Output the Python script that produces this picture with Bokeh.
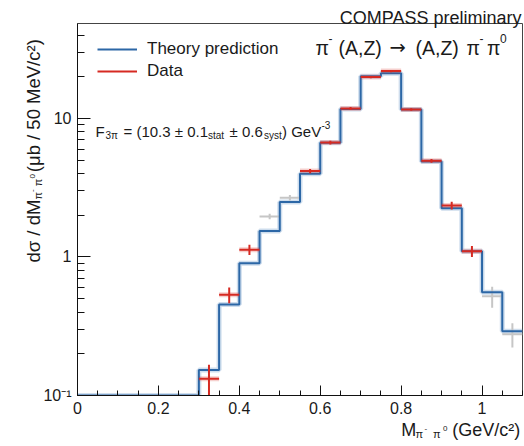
import math
from bokeh.plotting import figure
from bokeh.models import (Legend, LegendItem, FixedTicker, SingleIntervalTicker,
                          CustomJSTickFormatter, Range1d)
from bokeh.core.properties import value
from bokeh.embed import file_html
from bokeh.resources import INLINE

# ---------------- data ----------------
bin_edges = [0.00, 0.05, 0.10, 0.15, 0.20, 0.25, 0.30, 0.35, 0.40, 0.45, 0.50, 0.55,
             0.60, 0.65, 0.70, 0.75, 0.80, 0.85, 0.90, 0.95, 1.00, 1.05, 1.10]
# theory per bin (bins below 0.30 sit on the axis floor)
theory = [0.1, 0.1, 0.1, 0.1, 0.1, 0.1, 0.153, 0.454, 0.90, 1.54, 2.49, 3.99,
          6.67, 11.7, 20.2, 21.2, 11.6, 4.90, 2.25, 1.10, 0.557, 0.291]

data_mass = [0.325, 0.375, 0.425, 0.575, 0.625, 0.675, 0.725, 0.775, 0.825, 0.875, 0.925, 0.975]
data_val = [0.132, 0.533, 1.13, 4.17, 6.70, 11.8, 19.9, 22.0, 11.6, 4.95, 2.35, 1.10]
data_err = [0.035, 0.07, 0.095, 0.15, 0.20, 0.30, 0.40, 0.40, 0.25, 0.15, 0.15, 0.10]

excl_mass = [0.475, 0.525, 1.025, 1.075]
excl_val = [1.96, 2.68, 0.52, 0.277]
excl_err = [0.09, 0.12, 0.09, 0.055]

bin_half_width = 0.025

# ---------------- layout ----------------
FONT = "Liberation Sans"
TXT = "#1a1a1a"
BLUE = "#2c67a6"
RED = "#d62a22"
GREY = "#c6c6c6"

FIG_W, FIG_H = 524, 446
ML, MR, MT, MB = 77, 2, 23, 51
FL = ML              # canvas x of frame left
FBOT = FIG_H - MB    # canvas y of frame bottom
X0, X1 = 0.0, 1.1
Y0, Y1 = 0.1, 48.5

p = figure(width=FIG_W, height=FIG_H, x_range=Range1d(X0, X1), y_range=Range1d(Y0, Y1),
           y_axis_type="log", output_backend="svg", toolbar_location=None,
           min_border_left=ML, min_border_right=MR, min_border_top=MT, min_border_bottom=MB)
p.xgrid.visible = False
p.ygrid.visible = False
p.outline_line_color = "#444444"
p.outline_line_width = 1
p.background_fill_color = "white"
p.border_fill_color = "white"

# axes
p.xaxis.ticker = SingleIntervalTicker(interval=0.2, num_minor_ticks=4)
p.xaxis.formatter = CustomJSTickFormatter(
    code="if (Math.abs(tick) < 1e-9) return '0'; if (Math.abs(tick-1) < 1e-9) return '1'; return tick.toFixed(1);")
p.yaxis.ticker = FixedTicker(ticks=[0.1, 1, 10],
                             minor_ticks=[0.2, 0.3, 0.4, 0.5, 0.6, 0.7, 0.8, 0.9,
                                          2, 3, 4, 5, 6, 7, 8, 9, 20, 30, 40])
p.yaxis.formatter = CustomJSTickFormatter(
    code="if (tick < 0.5) return '10\u207B\u00B9'; return tick.toFixed(0);")
for ax in (p.xaxis, p.yaxis):
    ax.axis_line_color = "#111111"
    ax.major_tick_line_color = "#111111"
    ax.minor_tick_line_color = "#111111"
    ax.major_tick_out = 0
    ax.minor_tick_out = 0
    ax.major_label_text_font = FONT
    ax.major_label_text_font_size = "16px"
    ax.major_label_text_color = TXT
    ax.major_label_standoff = 6
p.xaxis.major_tick_in = 10
p.xaxis.minor_tick_in = 5
p.yaxis.major_tick_in = 13
p.yaxis.minor_tick_in = 7

# theory histogram
step_x = bin_edges
step_y = theory + [theory[-1]]
p.step(step_x, step_y, mode="after", line_color="#9dbbdc", line_width=5, line_alpha=0.5)

# excluded data (grey)
ex0 = [m - bin_half_width for m in excl_mass]
ex1 = [m + bin_half_width for m in excl_mass]
p.segment(ex0, excl_val, ex1, excl_val, line_color=GREY, line_width=2)
p.segment(excl_mass, [v - e for v, e in zip(excl_val, excl_err)],
          excl_mass, [v + e for v, e in zip(excl_val, excl_err)], line_color=GREY, line_width=2)

theory_r = p.step(step_x, step_y, mode="after", line_color=BLUE, line_width=2)

# data (red)
dx0 = [m - bin_half_width for m in data_mass]
dx1 = [m + bin_half_width for m in data_mass]
p.segment(dx0, data_val, dx1, data_val, line_color=RED, line_width=5, line_alpha=0.22)
data_r = p.segment(dx0, data_val, dx1, data_val, line_color=RED, line_width=2)
p.segment(data_mass, [v - e for v, e in zip(data_val, data_err)],
          data_mass, [v + e for v, e in zip(data_val, data_err)], line_color=RED, line_width=2)

# legend
legend = Legend(items=[LegendItem(label="Theory prediction", renderers=[theory_r]),
                       LegendItem(label="Data", renderers=[data_r])],
                location=(20, 314), glyph_width=40, glyph_height=20, label_height=20,
                spacing=2, padding=0, margin=0, label_standoff=10,
                border_line_color=None, background_fill_alpha=0,
                label_text_font=FONT, label_text_font_size="17px", label_text_color=TXT)
p.add_layout(legend)


def put(text, px, py, size, align="left", angle=0.0, color=TXT, font=FONT):
    """Text anchored at the frame's bottom-left corner, shifted by pixel offsets."""
    p.text(x=[X0], y=[Y0], text=[text], x_offset=px - FL, y_offset=py - FBOT,
           text_font=value(font), text_font_size=value(f"{size}px"), text_color=color,
           text_align=align, text_baseline="alphabetic", angle=angle, level="overlay")


# title
put("COMPASS preliminary", 521, 17, 18, align="right")

# reaction
RB = 47
put("\u03c0", 315, RB, 19.5)
put("-", 328, RB - 9, 12)
put("(A,Z)", 338, RB, 19.5)
put("\u2192", 389, RB, 19.5, font="DejaVu Sans")
put("(A,Z)", 415, RB, 19.5)
put("\u03c0", 466, RB, 19.5)
put("-", 479, RB - 9, 12)
put("\u03c0", 486.5, RB, 19.5)
put("0", 499.5, RB - 9, 12)

# F3pi annotation
FB0 = 131
put("F", 95, FB0, 15)
put("3\u03c0", 105, FB0 + 3.5, 10)
put("= (10.3 \u00b1 0.1", 123, FB0, 15)
put("stat", 207.5, FB0 + 3.5, 10)
put("\u00b1 0.6", 229, FB0, 15)
put("syst", 263.5, FB0 + 3.5, 10)
put(") GeV", 281.5, FB0, 15)
put("-3", 321, FB0 - 6.5, 10)

# x axis title
XB = 429
put("M", 400.7, XB, 18)
put("\u03c0", 415, XB + 4, 11)
put("-", 424, XB - 1.5, 8)
put("\u03c0", 432.5, XB + 4, 11)
put("0", 442.5, XB - 1.5, 8)
put("(GeV/c\u00b2)", 451.7, XB, 18)

# y axis title (rotated, chained upward)
W = {' ': 0.278, '/': 0.278, 'd': 0.556, '\u03c3': 0.6, 'M': 0.833, '\u03c0': 0.6, '-': 0.333,
     '0': 0.556, '5': 0.556, '(': 0.333, ')': 0.333, '\u03bc': 0.576, 'b': 0.556, 'e': 0.556,
     'V': 0.667, 'c': 0.5, '\u00b2': 0.333}


def tw(s, size):
    return sum(W.get(ch, 0.556) for ch in s) * size


YX = 33.0
ycur = 262.0
for text, size, dx, gap in [("d\u03c3 / dM", 18.5, 0, 0.5), ("\u03c0", 11, 4, 1), ("-", 8, -1.5, 3),
                            ("\u03c0", 11, 4, 1), ("0", 8, -1.5, 2),
                            ("(\u03bcb / 50 MeV/c\u00b2)", 18.5, 0, 0)]:
    put(text, YX + dx, ycur, size, angle=math.pi / 2)
    ycur -= tw(text, size) + gap

open("out.html", "w").write(file_html(p, INLINE))
